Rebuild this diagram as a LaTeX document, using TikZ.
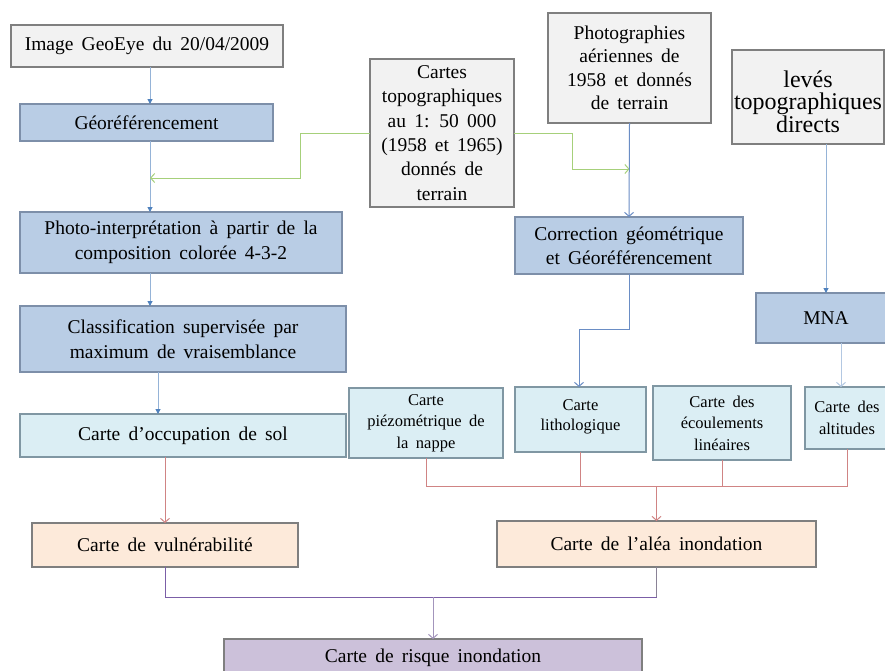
\documentclass[tikz,border=0pt]{standalone}
\usepackage{fontspec}
\setmainfont{Liberation Serif}
\usetikzlibrary{arrows.meta,calc}
\definecolor{fgray}{HTML}{F2F2F2}
\definecolor{fblue}{HTML}{B9CDE5}
\definecolor{fcyan}{HTML}{DBEEF4}
\definecolor{forange}{HTML}{FDEADA}
\definecolor{fpurple}{HTML}{CCC1DA}
\definecolor{dgray}{HTML}{7F7F7F}
\definecolor{dblue}{HTML}{7D8FA9}
\definecolor{dcyan}{HTML}{8097A3}
\definecolor{lnblue}{HTML}{95B3D7}
\definecolor{lnblue2}{HTML}{6A8DC5}
\definecolor{lnblue3}{HTML}{B3C8E2}
\definecolor{headblue}{HTML}{4F81BD}
\definecolor{lngreen}{HTML}{A6D07A}
\definecolor{lnred}{HTML}{D08484}
\definecolor{lnpurple}{HTML}{7B5EA7}
\definecolor{lnpurple2}{HTML}{A395BC}
\definecolor{lngray}{HTML}{8A8296}
\newcommand{\fmain}{\fontsize{19.5}{24.3}\selectfont\spaceskip=0.42em plus 0.1em minus 0.05em\relax}
\newcommand{\fsmall}{\fontsize{16.5}{21.5}\selectfont\spaceskip=0.45em plus 0.1em minus 0.05em\relax}
\newcommand{\fleves}{\fontsize{24}{22.5}\selectfont}
\begin{document}
\begin{tikzpicture}[x=1pt,y=-1pt,
  bx/.style={rectangle, inner sep=0pt, outer sep=0pt, line width=1.1pt, align=center, anchor=north west, font=\fmain},
  greybox/.style={bx, draw=dgray, fill=fgray},
  bluebox/.style={bx, draw=dblue, fill=fblue},
  cyanbox/.style={bx, draw=dcyan, fill=fcyan},
  orangebox/.style={bx, draw=dgray, fill=forange},
  purplebox/.style={bx, draw=dgray, fill=fpurple},
  tri/.style={line width=1pt, draw=lnblue, -{Triangle[length=5pt,width=5pt,fill=headblue,color=headblue]}},
  barb/.style={line width=1pt, -{Straight Barb[length=4pt,width=9pt]}},
  plain/.style={line width=1pt}
]
\useasboundingbox (0,0) rectangle (885,670);
\clip (0,0) rectangle (885,670);
\fill[white] (0,0) rectangle (885,670);

% coordinates for connector columns
\coordinate (cA) at (150,0);
\coordinate (cB) at (158,0);
\coordinate (cM) at (841,0);
\coordinate (gL) at (300,178);
\coordinate (gR) at (572,169);
\coordinate (jC) at (579,329);
\coordinate (jR) at (0,486.5);
\coordinate (jP) at (0,597);

% nodes
\node[greybox, minimum width=272pt, minimum height=42pt] (img) at (11,25) {Image GeoEye du 20/04/2009};
\node[bluebox, minimum width=253pt, minimum height=37pt] (georef) at (20,104) {Géoréférencement};
\node[greybox, minimum width=144pt, minimum height=148pt] (cartes) at (370,59) {Cartes\\topographiques\\au 1: 50 000\\(1958 et 1965)\\donnés de\\terrain};
\node[greybox, minimum width=163pt, minimum height=110pt, font=\fmain\fontsize{19.5}{23.5}\selectfont] (photos) at (548,13) {Photographies\\aériennes de\\1958 et donnés\\de terrain};
\node[greybox, minimum width=152pt, minimum height=94pt, font=\fleves] (leves) at (732,50) {\rule{0pt}{26pt}levés\\topographiques\\directs};
\node[bluebox, minimum width=322pt, minimum height=61pt, font=\fmain\fontsize{19.5}{25.5}\selectfont] (photoint) at (20,212) {Photo-interprétation à partir de la\\composition colorée 4-3-2};
\node[bluebox, minimum width=326pt, minimum height=66pt, font=\fmain\fontsize{19.5}{25.5}\selectfont] (classif) at (20,306) {Classification supervisée par\\maximum de vraisemblance};
\node[bluebox, minimum width=228pt, minimum height=57pt] (correc) at (515,217) {Correction géométrique\\et Géoréférencement};
\node[bluebox, minimum width=140pt, minimum height=50pt] (mna) at (756,293) {MNA};
\node[cyanbox, minimum width=326pt, minimum height=43pt] (occup) at (20,414) {Carte d’occupation de sol};
\node[cyanbox, minimum width=154pt, minimum height=70pt, font=\fsmall] (piezo) at (349,388) {Carte\\piézométrique de\\la nappe};
\node[cyanbox, minimum width=131pt, minimum height=65pt, font=\fsmall\fontsize{16.5}{20.5}\selectfont] (litho) at (515,387) {Carte\\lithologique\rule[-9pt]{0pt}{9pt}};
\node[cyanbox, minimum width=138pt, minimum height=74pt, font=\fsmall] (ecoul) at (653,386) {Carte des\\écoulements\\linéaires};
\node[cyanbox, minimum width=84pt, minimum height=62pt, font=\fsmall] (alt) at (805,387) {Carte des\\altitudes};
\node[orangebox, minimum width=266pt, minimum height=44pt] (vuln) at (32,523) {Carte de vulnérabilité};
\node[orangebox, minimum width=319pt, minimum height=46pt] (alea) at (497,521) {Carte de l’aléa inondation};
\node[purplebox, minimum width=418pt, minimum height=37pt] (risque) at (224,639) {Carte de risque inondation};

% blue chain on the left
\draw[tri] (img.south -| cA) -- (georef.north -| cA);
\draw[tri] (georef.south -| cA) -- (photoint.north -| cA);
\draw[tri] (photoint.south -| cA) -- (classif.north -| cA);
\draw[tri] (classif.south -| cB) -- (occup.north -| cB);

% green connectors from the topographic maps
\draw[barb, draw=lngreen] (cartes.west) -| (gL) -- (gL -| cA);
\draw[barb, draw=lngreen] (cartes.east) -| (gR) -- (gR -| photos.south);

% aerial photographs branch
\draw[barb, draw=lnblue2] (photos.south) -- (correc.north);
\draw[barb, draw=lnblue2] (correc.south) |- (jC) -- (litho.north -| jC);

% survey branch
\draw[tri] (mna.north |- leves.south) -- (mna.north);
\draw[barb, draw=lnblue3] (mna.south -| cM) -- (alt.north -| cM);

% red connectors
\draw[barb, draw=lnred] (occup.south -| vuln.north) -- (vuln.north);
\draw[plain, draw=lnred] (piezo.south) |- (jR -| alt.south) -- (alt.south);
\draw[plain, draw=lnred] (litho.south) -- (litho.south |- jR);
\draw[plain, draw=lnred] (ecoul.south) -- (ecoul.south |- jR);
\draw[barb, draw=lnred] (alea.north |- jR) -- (alea.north);

% purple connectors
\draw[plain, draw=lnpurple] (vuln.south) |- (jP -| alea.south);
\draw[plain, draw=lngray] (alea.south) -- (alea.south |- jP);
\draw[barb, draw=lnpurple2] (risque.north |- jP) -- (risque.north);
\end{tikzpicture}
\end{document}
